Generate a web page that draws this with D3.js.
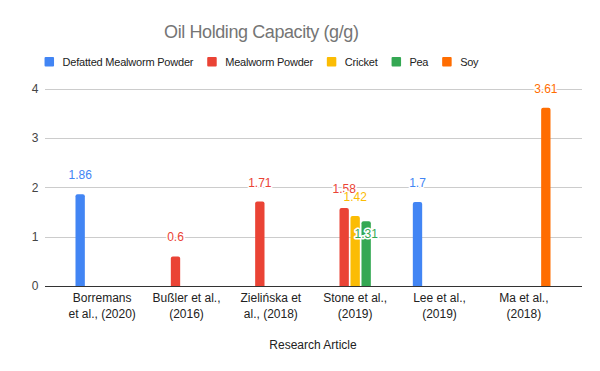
<!DOCTYPE html>
<html>
<head>
<meta charset="utf-8">
<script src="https://cdn.jsdelivr.net/npm/d3@7"></script>
<style>
  html, body { margin: 0; padding: 0; background: #fff; }
  svg { display: block; font-family: "Liberation Sans", Arial, sans-serif; }
</style>
</head>
<body>
<svg id="chart" width="600" height="371"></svg>
<script>
// ---- data ----
const categories = ["Borremans et al., (2020)", "Bußler et al., (2016)", "Zielińska et al., (2018)", "Stone et al., (2019)", "Lee et al., (2019)", "Ma et al., (2018)"];
const seriesNames = ["Defatted Mealworm Powder", "Mealworm Powder", "Cricket", "Pea", "Soy"];
const defattedMealworm = [1.86, null, null, null, 1.7, null];
const mealwormPowder = [null, 0.6, 1.71, 1.58, null, null];
const cricket = [null, null, null, 1.42, null, null];
const pea = [null, null, null, 1.31, null, null];
const soy = [null, null, null, null, null, 3.61];
const yTicks = [0, 1, 2, 3, 4];
const labelInside = [[false, false, false, false, false, false],
                     [false, false, false, false, false, false],
                     [false, false, false, false, false, false],
                     [false, false, false, true, false, false],
                     [false, false, false, false, false, false]];
const colors = ["#4285F4", "#EA4335", "#FBBC04", "#34A853", "#FF6D01"];
const title = "Oil Holding Capacity (g/g)";
const xTitle = "Research Article";

const seriesValues = [defattedMealworm, mealwormPowder, cricket, pea, soy];

const svg = d3.select("#chart");
const gridLeft = 45, gridRight = 582;
const plotLeft = 60, plotRight = 566;
const yTop = 88.5, yBottom = 286;

const x0 = d3.scaleBand().domain(categories).range([plotLeft, plotRight]).padding(0);
const x1 = d3.scaleBand().domain(seriesNames).range([-27.5, 27.5]).paddingInner(0.15).paddingOuter(0.075);
const y = d3.scaleLinear().domain([0, 4]).range([yBottom, yTop]);

// title
const tt = svg.append("text").attr("x", 261.5).attr("y", 37.5).attr("text-anchor", "middle")
  .attr("font-size", 18).attr("fill", "#757575").text(title);
const tw = tt.node().getComputedTextLength();
tt.attr("textLength", tw * 0.95).attr("lengthAdjust", "spacing");

// legend
const legend = svg.append("g");
let lx = 0;
seriesNames.forEach((name, i) => {
  const g = legend.append("g").attr("transform", `translate(${lx},0)`);
  g.append("rect").attr("x", 0).attr("y", 57).attr("width", 9.5).attr("height", 9.5).attr("rx", 1).attr("fill", colors[i]);
  const t = g.append("text").attr("x", 18).attr("y", 66).attr("font-size", 11).attr("fill", "#222").text(name);
  const w = t.node().getComputedTextLength() * 0.965;
  t.attr("textLength", w).attr("lengthAdjust", "spacing");
  lx += 18 + w + 13.7;
});
const legendWidth = lx - 13.7;
legend.attr("transform", `translate(${261.5 - legendWidth / 2},0)`);

// gridlines
svg.append("g").selectAll("line").data(yTicks.filter(d => d !== 0)).join("line")
  .attr("x1", gridLeft).attr("x2", gridRight)
  .attr("y1", d => Math.round(y(d)) + 0.5).attr("y2", d => Math.round(y(d)) + 0.5)
  .attr("stroke", "#cccccc").attr("stroke-width", 1);

// y axis labels
const yAxis = d3.axisLeft(y).tickValues(yTicks).tickSize(0).tickPadding(0).tickFormat(d3.format("d"));
const yg = svg.append("g").attr("transform", `translate(38.5,0)`).call(yAxis);
yg.select(".domain").remove();
yg.selectAll("text").attr("font-size", 12).attr("fill", "#444").attr("font-family", "Liberation Sans, Arial, sans-serif");

// bars
function barPath(x, yv, w, h, r) {
  r = Math.min(r, h, w / 2);
  return `M${x},${yv + h} V${yv + r} Q${x},${yv} ${x + r},${yv} H${x + w - r} Q${x + w},${yv} ${x + w},${yv + r} V${yv + h} Z`;
}
const barData = [];
seriesValues.forEach((vals, si) => {
  vals.forEach((v, ci) => {
    if (v !== null) barData.push({ si, ci, v, cat: categories[ci], name: seriesNames[si] });
  });
});
const cx = d => x0(d.cat) + x0.bandwidth() / 2 + x1(d.name);
svg.append("g").selectAll("path").data(barData).join("path")
  .attr("d", d => barPath(cx(d), y(d.v), x1.bandwidth(), y(0) - y(d.v), 2))
  .attr("fill", d => colors[d.si]);

// baseline
svg.append("line").attr("x1", gridLeft).attr("x2", gridRight)
  .attr("y1", yBottom + 0.5).attr("y2", yBottom + 0.5).attr("stroke", "#333").attr("stroke-width", 1);

// value labels
svg.append("g").selectAll("text").data(barData).join("text")
  .attr("x", d => cx(d) + x1.bandwidth() / 2)
  .attr("y", d => labelInside[d.si][d.ci] ? y(d.v) + 17 : y(d.v) - 15)
  .attr("text-anchor", "middle").attr("font-size", 12)
  .attr("fill", d => colors[d.si])
  .attr("stroke", "#fff").attr("stroke-width", 3).attr("stroke-linejoin", "round")
  .attr("paint-order", "stroke")
  .text(d => String(d.v));

// x axis labels (wrapped)
const xg = svg.append("g");
categories.forEach(cat => {
  const t = xg.append("text").attr("x", x0(cat) + x0.bandwidth() / 2).attr("y", 302)
    .attr("text-anchor", "middle").attr("font-size", 12).attr("fill", "#222");
  const words = cat.split(" ");
  let line = [];
  let lineNo = 0;
  let tspan = t.append("tspan").attr("x", x0(cat) + x0.bandwidth() / 2).attr("y", 302);
  words.forEach(w => {
    line.push(w);
    tspan.text(line.join(" "));
    if (tspan.node().getComputedTextLength() > 72 && line.length > 1) {
      line.pop();
      tspan.text(line.join(" "));
      line = [w];
      lineNo++;
      tspan = t.append("tspan").attr("x", x0(cat) + x0.bandwidth() / 2).attr("y", 302 + lineNo * 15.5).text(w);
    }
  });
});

// x axis title
svg.append("text").attr("x", (plotLeft + plotRight) / 2).attr("y", 349)
  .attr("text-anchor", "middle").attr("font-size", 12).attr("fill", "#222").text(xTitle);
</script>
</body>
</html>
